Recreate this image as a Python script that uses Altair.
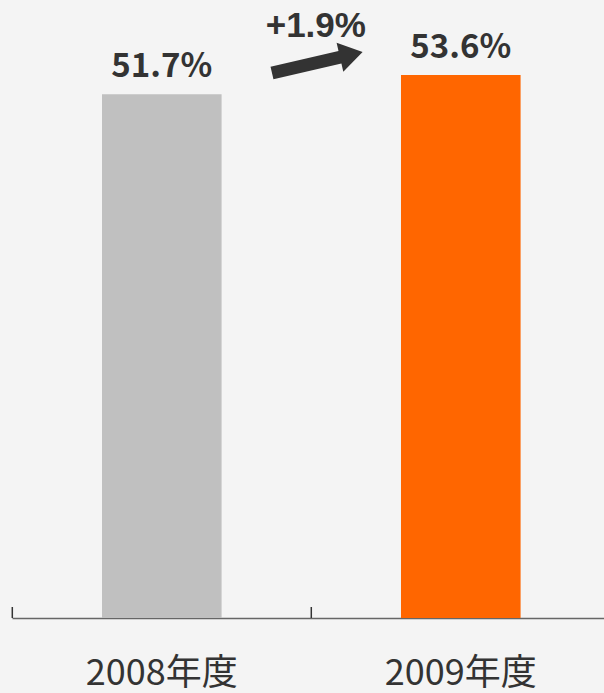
import altair as alt
import pandas as pd

# ---- data ----
categories = ["2008年度", "2009年度"]
values = [51.7, 53.6]
value_labels = ["51.7%", "53.6%"]
bar_colors = ["#c0c0c0", "#ff6600"]
change_text = ["+1.9%"]
change_anchor = [categories[0]]
change_text_y = [57.35]
arrow_y = [54.83]

df = pd.DataFrame({"cat": categories, "val": values, "label": value_labels, "color": bar_colors})
ann_df = pd.DataFrame({"cat": change_anchor, "y": change_text_y, "t": change_text})
arrow_df = pd.DataFrame({"cat": change_anchor, "y": arrow_y})

W, H = 592, 618
TEXT = "#333333"
NUM_FONT = "Noto Sans CJK JP"

xscale = alt.Scale(domain=categories, paddingInner=0.6, paddingOuter=0.29, align=0.519)
yscale = alt.Scale(domain=[0, 61], nice=False, zero=True)

xaxis = alt.Axis(
    title=None, labelAngle=0, ticks=False, grid=False,
    domainColor="#666666", domainWidth=1.5,
    labelFont=NUM_FONT, labelFontSize=36, labelColor=TEXT,
    labelBaseline="alphabetic", labelPadding=66,
)

base = alt.Chart(df)

bars = base.mark_bar().encode(
    x=alt.X("cat:N", scale=xscale, sort=categories, axis=xaxis),
    y=alt.Y("val:Q", scale=yscale, axis=None),
    color=alt.Color("color:N", scale=None),
)

value_text = base.mark_text(
    baseline="alphabetic", dy=-17, font=NUM_FONT, fontSize=33,
    fontWeight="bold", color=TEXT,
).encode(
    x=alt.X("cat:N", sort=categories),
    y=alt.Y("val:Q", axis=None),
    text="label:N",
)

ticks = base.mark_rule(color=TEXT, strokeWidth=1.5, xOffset=-89.7).encode(
    x=alt.X("cat:N", sort=categories, bandPosition=0),
    y=alt.value(H - 11),
    y2=alt.value(H),
)

change = alt.Chart(ann_df).mark_text(
    font="Liberation Sans", fontWeight="bold", fontSize=35,
    baseline="alphabetic", xOffset=154, color=TEXT,
).encode(
    x=alt.X("cat:N", sort=categories),
    y=alt.Y("y:Q", axis=None),
    text="t:N",
)

arrow_path = "M-1,-0.14L0.5,-0.14L0.5,-0.32L1,0L0.5,0.32L0.5,0.14L-1,0.14Z"
arrow = alt.Chart(arrow_df).mark_point(
    shape=arrow_path, size=8649, angle=347, filled=True, color=TEXT,
    opacity=1, strokeWidth=0, xOffset=155.5,
).encode(
    x=alt.X("cat:N", sort=categories),
    y=alt.Y("y:Q", axis=None),
)

chart = alt.layer(bars, ticks, value_text, change, arrow).properties(
    width=W, height=H,
    padding={"left": 12, "top": 0, "right": 0, "bottom": 75},
    autosize="none",
    background="#f4f4f4",
).configure_view(stroke=None)

chart.save("out.html", embed_options={"renderer": "svg", "actions": False})
